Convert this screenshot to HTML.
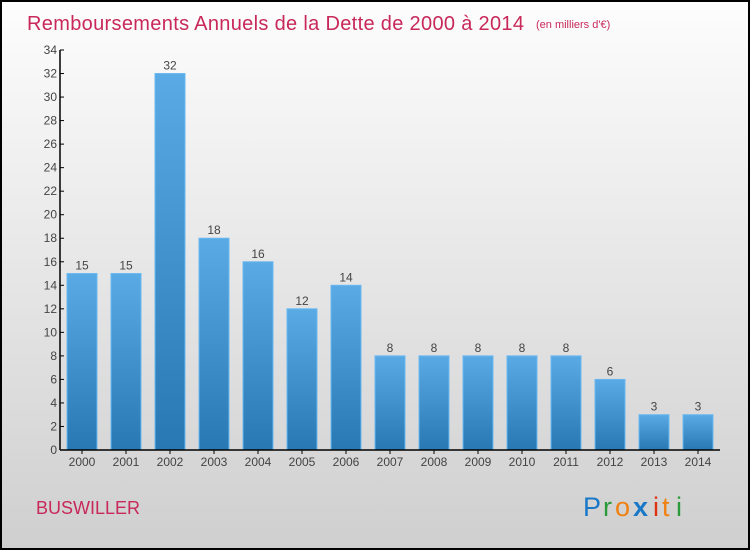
<!DOCTYPE html>
<html><head><meta charset="utf-8"><style>
body{margin:0;width:750px;height:550px;overflow:hidden;font-family:"Liberation Sans",sans-serif}
</style></head><body>
<svg id="chart" width="750" height="550" xmlns="http://www.w3.org/2000/svg">
<defs>
<linearGradient id="bg" x1="0" y1="0" x2="0" y2="1"><stop offset="0" stop-color="#fdfdfd"/><stop offset="1" stop-color="#cfcfcf"/></linearGradient>
<linearGradient id="bar" x1="0" y1="0" x2="0" y2="1"><stop offset="0" stop-color="#5aaae6"/><stop offset="1" stop-color="#2878b4"/></linearGradient>
</defs>
<rect x="1" y="1" width="748" height="548" fill="url(#bg)" stroke="#000" stroke-width="2"/>
<text x="27" y="30" font-size="20" fill="#c8285a" textLength="497">Remboursements Annuels de la Dette de 2000 à 2014</text>
<text x="536" y="28" font-size="11" fill="#c8285a">(en milliers d'€)</text>
<g id="yaxis"></g><g id="bars"></g><g id="xaxis"></g>
<text x="36" y="514" font-size="18" fill="#c8285a">BUSWILLER</text>
<g font-size="27">
<text x="583" y="516" fill="#1a78c8">P</text><text x="603" y="516" fill="#2a9a3a">r</text><text x="615" y="516" fill="#f08010">o</text><text x="633" y="516" fill="#1a78c8" font-weight="bold">x</text><text x="653" y="516" fill="#e03010">i</text><text x="662" y="516" fill="#f08010">t</text><text x="676" y="516" fill="#2a9a3a">i</text>
</g>
</svg>
<script>
const categories=["2000","2001","2002","2003","2004","2005","2006","2007","2008","2009","2010","2011","2012","2013","2014"];
const values=[15,15,32,18,16,12,14,8,8,8,8,8,6,3,3];
const yTicks=[0,2,4,6,8,10,12,14,16,18,20,22,24,26,28,30,32,34];
const NS="http://www.w3.org/2000/svg";
const y0=450,yTop=50,yMax=34,x0=60,step=44,bw=30;
const yScale=v=>y0-(v/yMax)*(y0-yTop);
const xCenter=i=>82+i*step;
function mk(tag,attrs,parent,txt){const e=document.createElementNS(NS,tag);for(const k in attrs)e.setAttribute(k,attrs[k]);if(txt!==undefined)e.textContent=txt;parent.appendChild(e);return e;}
const ya=document.getElementById('yaxis'),ba=document.getElementById('bars'),xa=document.getElementById('xaxis');
let l=mk('line',{x1:x0,y1:yTop,x2:x0,y2:y0,stroke:'#000','stroke-width':1.5},ya);


yTicks.forEach(t=>{
  const y=yScale(t);
  const tk=mk('line',{x1:x0,y1:y,x2:x0+4,y2:y,stroke:'#000'},ya);
  
  
  const tx=mk('text',{x:x0-3,y:y+4,'text-anchor':'end','font-size':12,fill:'#444'},ya,t);
  
  
});
categories.forEach((c,i)=>{
  const cx=xCenter(i),v=values[i],y=yScale(v);
  const r=mk('rect',{x:cx-bw/2,y:y,width:bw,height:y0-y,fill:'url(#bar)',stroke:'#6ab8f0','stroke-width':1},ba);
  
  
  const vl=mk('text',{x:cx,y:y-4,'text-anchor':'middle','font-size':12,fill:'#444'},ba,v);
  
  
  const tk=mk('line',{x1:cx,y1:y0,x2:cx,y2:y0+4,stroke:'#000'},xa);
  
  
  const xl=mk('text',{x:cx,y:y0+16,'text-anchor':'middle','font-size':12,fill:'#444'},xa,c);
  
  
});
const xl=mk('line',{x1:x0,y1:y0,x2:720,y2:y0,stroke:'#000','stroke-width':1.5},xa);


</script>
</body></html>
